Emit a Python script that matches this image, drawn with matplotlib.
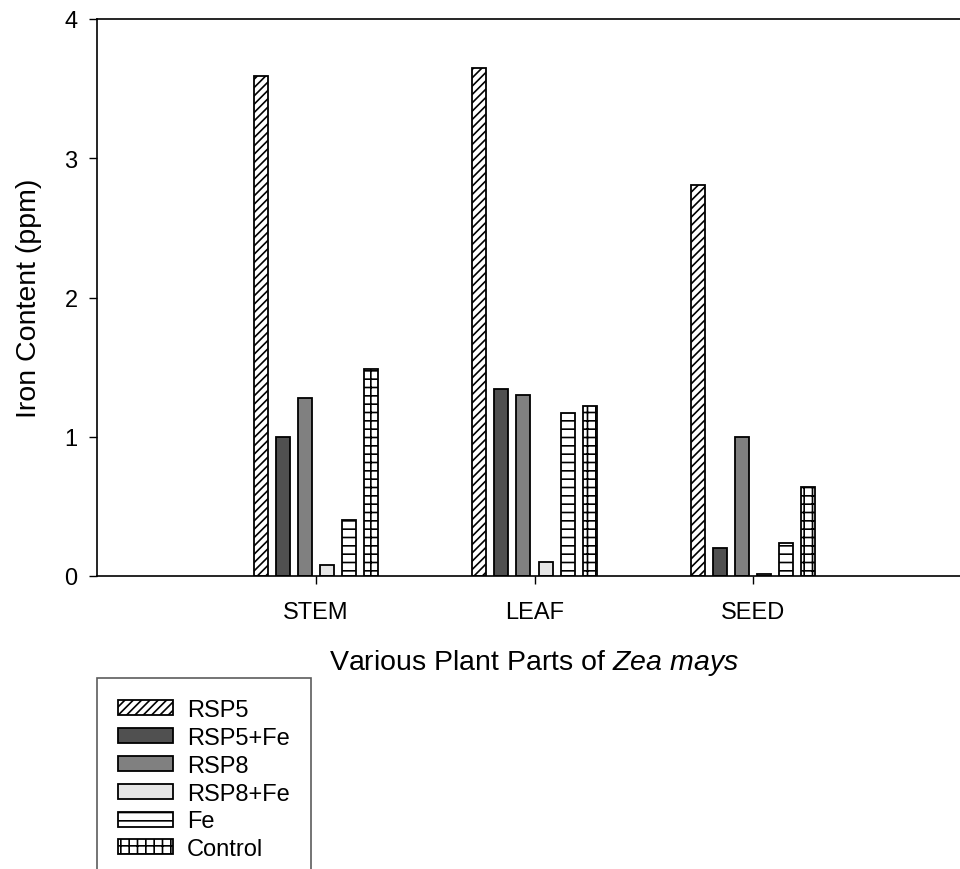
import numpy as np
import matplotlib.pyplot as plt

plt.rcParams["font.family"] = ["Liberation Sans", "DejaVu Sans"]
plt.rcParams["mathtext.fontset"] = "custom"
plt.rcParams["mathtext.it"] = "Liberation Sans:italic"
plt.rcParams["mathtext.rm"] = "Liberation Sans"
plt.rcParams["hatch.linewidth"] = 1.2

parts = ["STEM", "LEAF", "SEED"]
treatments = ["RSP5", "RSP5+Fe", "RSP8", "RSP8+Fe", "Fe", "Control"]

rsp5 = [3.59, 3.65, 2.81]
rsp5_fe = [1.00, 1.34, 0.20]
rsp8 = [1.28, 1.30, 1.00]
rsp8_fe = [0.08, 0.10, 0.015]
fe = [0.40, 1.17, 0.24]
control = [1.49, 1.22, 0.64]

series = [rsp5, rsp5_fe, rsp8, rsp8_fe, fe, control]
fills = ["white", "#505050", "#808080", "#e6e6e6", "white", "white"]
hatches = ["////", None, None, None, "--", "++"]

fig = plt.figure(figsize=(9.6, 8.7), dpi=100)
ax = fig.add_axes([97 / 960, 1 - 577 / 870, 875 / 960, 557 / 870])

x = np.arange(1, len(parts) + 1)
slot = 0.101
width = 0.064
for i, (vals, fc, h) in enumerate(zip(series, fills, hatches)):
    ax.bar(x + (i - 2.5) * slot, vals, width, color=fc, hatch=h,
           edgecolor="black", linewidth=1.3, label=treatments[i])

ax.set_xlim(0, 4)
ax.set_ylim(0, 4)
ax.set_xticks(x)
ax.set_xticklabels(parts)
ax.set_yticks([0, 1, 2, 3, 4])
ax.tick_params(axis="both", labelsize=17, length=6, width=1, direction="out")
ax.tick_params(axis="x", pad=12)
ax.tick_params(axis="y", pad=8)
for s in ["left", "bottom", "top"]:
    ax.spines[s].set_linewidth(1.2)
ax.spines["right"].set_visible(False)

ax.set_ylabel("Iron Content (ppm)", fontsize=20.5, labelpad=16)
ax.set_xlabel("Various Plant Parts of $\\mathit{Zea\\ mays}$", fontsize=20.5, labelpad=17)

leg = fig.legend(loc="upper left", bbox_to_anchor=(97 / 960, 1 - 679 / 870),
                 frameon=True, fancybox=False, edgecolor="#333333",
                 fontsize=17, handlelength=2.3, handleheight=0.6,
                 borderpad=0.9, labelspacing=0.245, handletextpad=0.6,
                 borderaxespad=0)
leg.get_frame().set_linewidth(1.2)

fig.savefig("out.png", dpi=100)
